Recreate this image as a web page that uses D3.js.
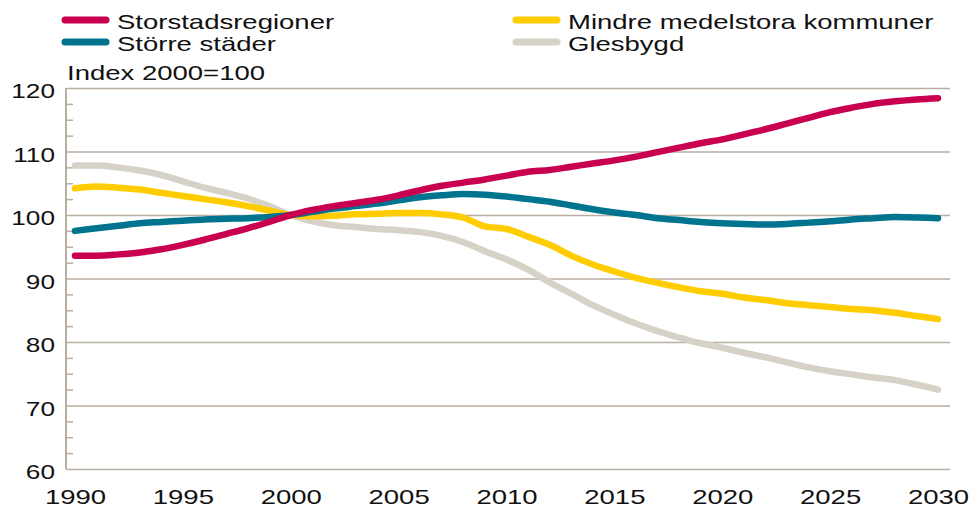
<!DOCTYPE html>
<html>
<head>
<meta charset="utf-8">
<script src="https://cdn.jsdelivr.net/npm/d3@7"></script>
<style>
  body { margin: 0; background: #fff; }
  svg text { font-family: "Liberation Sans", Arial, sans-serif; fill: #111; }
</style>
</head>
<body>
<svg id="container" width="972" height="508"></svg>
<script>
const years = d3.range(1990, 2031);
const xTicks = [1990, 1995, 2000, 2005, 2010, 2015, 2020, 2025, 2030];
const yTicks = [60, 70, 80, 90, 100, 110, 120];
const yMinor = [62.5, 65, 67.5, 72.5, 75, 77.5, 82.5, 85, 87.5, 92.5, 95, 97.5, 102.5, 105, 107.5, 112.5, 115, 117.5];

const storstad = [93.6, 93.6, 93.8, 94.1, 94.6, 95.3, 96.1, 97.0, 97.9, 98.9,
  100, 100.8, 101.4, 101.9, 102.4, 103.1, 103.9, 104.6, 105.1, 105.6,
  106.2, 106.8, 107.1, 107.6, 108.1, 108.6, 109.2, 109.9, 110.6, 111.3,
  111.9, 112.7, 113.5, 114.4, 115.3, 116.2, 116.9, 117.5, 117.9, 118.2, 118.4];
const storreStader = [97.5, 97.9, 98.3, 98.7, 98.9, 99.1, 99.3, 99.4, 99.5, 99.7,
  100, 100.5, 101.0, 101.4, 101.8, 102.3, 102.8, 103.1, 103.3, 103.2,
  102.9, 102.5, 102.1, 101.5, 100.9, 100.4, 100.0, 99.5, 99.2, 98.9,
  98.7, 98.6, 98.5, 98.6, 98.8, 99.0, 99.3, 99.5, 99.7, 99.6, 99.5];
const mindreMedel = [104.2, 104.5, 104.3, 104.0, 103.5, 103.0, 102.5, 102.0, 101.4, 100.7,
  100, 99.8, 99.9, 100.1, 100.2, 100.3, 100.3, 100.1, 99.6, 98.2,
  97.8, 96.6, 95.3, 93.6, 92.2, 91.1, 90.1, 89.3, 88.6, 88.0,
  87.6, 87.0, 86.6, 86.1, 85.8, 85.5, 85.2, 85.0, 84.6, 84.1, 83.6];
const glesbygd = [107.8, 107.8, 107.5, 107.0, 106.3, 105.3, 104.3, 103.5, 102.6, 101.4,
  100, 99.0, 98.4, 98.1, 97.8, 97.6, 97.3, 96.7, 95.7, 94.3,
  93.0, 91.4, 89.4, 87.6, 85.8, 84.3, 82.9, 81.7, 80.7, 79.8,
  79.1, 78.3, 77.6, 76.8, 76.0, 75.4, 74.9, 74.4, 74.0, 73.3, 72.5];

const seriesNames = ["Storstadsregioner", "Större städer", "Mindre medelstora kommuner", "Glesbygd"];
const seriesColors = ["#c8004f", "#00748f", "#ffcc00", "#d6d2c8"];
const seriesValues = [storstad, storreStader, mindreMedel, glesbygd];

const sx = 1.31; // text in the original is stretched sideways
const gridColor = "#b9aea2";

const svg = d3.select("#container");

const axisX = 66, gridRight = 950;
const x = d3.scaleLinear().domain([1990, 2030]).range([75, 938]);
const y = d3.scaleLinear().domain([60, 120]).range([469, 88]);

// gridlines + y labels
const gY = svg.append("g")
  .attr("transform", "translate(" + axisX + ",0)")
  .call(d3.axisLeft(y).tickValues(yTicks).tickSize(-(gridRight - axisX)).tickPadding(11 / sx));
gY.select(".domain").remove();
gY.selectAll(".tick line").attr("stroke", gridColor).attr("stroke-width", 1.5);
gY.selectAll(".tick text")
  .attr("font-size", 20).attr("font-family", null).attr("dy", 9.5)
  .attr("transform", "scale(" + sx + ",1)");

// minor ticks
const gMinor = svg.append("g")
  .attr("transform", "translate(" + axisX + ",0)")
  .call(d3.axisRight(y).tickValues(yMinor).tickSize(7).tickFormat(""));
gMinor.select(".domain").remove();
gMinor.selectAll(".tick line").attr("stroke", gridColor).attr("stroke-width", 1.5);

// left axis line
svg.append("line")
  .attr("x1", axisX).attr("x2", axisX)
  .attr("y1", y(120)).attr("y2", y(60))
  .attr("stroke", gridColor).attr("stroke-width", 2);

// x labels
const gX = svg.append("g")
  .attr("transform", "translate(0," + y(60) + ")")
  .call(d3.axisBottom(x).tickValues(xTicks).tickSize(0).tickFormat(d3.format("d")));
gX.select(".domain").remove();
gX.selectAll(".tick text")
  .attr("font-size", 21).attr("font-family", null)
  .attr("y", 35).attr("dy", 0)
  .attr("transform", "scale(" + sx + ",1)");

// unit label
svg.append("text")
  .attr("transform", "translate(67,80) scale(" + sx + ",1)")
  .attr("font-size", 21)
  .text("Index 2000=100");

// lines
const line = d3.line()
  .x((d, i) => x(years[i]))
  .y(d => y(d))
  .curve(d3.curveMonotoneX);

const drawOrder = [3, 2, 1, 0];
svg.append("g").selectAll("path")
  .data(drawOrder)
  .enter()
  .append("path")
  .attr("d", k => line(seriesValues[k]))
  .attr("fill", "none")
  .attr("stroke", k => seriesColors[k])
  .attr("stroke-width", 6.5)
  .attr("stroke-linecap", "round")
  .attr("stroke-linejoin", "round");

// legend
const legendPos = [[65, 20], [65, 42], [516, 20], [516, 42]];
const legend = svg.append("g").selectAll("g")
  .data(seriesNames)
  .enter()
  .append("g")
  .attr("transform", (d, i) => "translate(" + legendPos[i][0] + "," + legendPos[i][1] + ")");
legend.append("line")
  .attr("x1", 0).attr("x2", 41)
  .attr("stroke", (d, i) => seriesColors[i])
  .attr("stroke-width", 7)
  .attr("stroke-linecap", "round");
legend.append("text")
  .attr("transform", "translate(52,9) scale(" + sx + ",1)")
  .attr("font-size", 21)
  .text(d => d);
</script>
</body>
</html>
